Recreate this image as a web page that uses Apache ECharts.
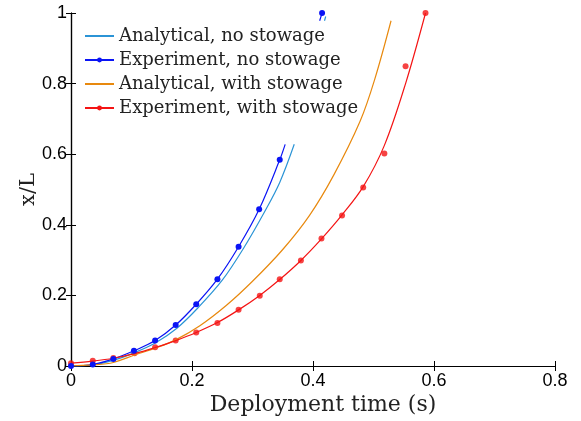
<!DOCTYPE html>
<html>
<head>
<meta charset="utf-8">
<script src="https://cdn.jsdelivr.net/npm/echarts@6/dist/echarts.min.js"></script>
<style>
  html, body { margin: 0; padding: 0; background: #fff; }
  #chart { width: 581px; height: 421px; }
</style>
</head>
<body>
<div id="chart"></div>
<script>
// Axis ticks
const xTicks = [0, 0.2, 0.4, 0.6, 0.8];
const yTicks = [0, 0.2, 0.4, 0.6, 0.8, 1];

// Analytical model, no stowage (deployment time in s, x/L)
const anaNoT = [0, 0.035, 0.07, 0.105, 0.14, 0.175, 0.21, 0.25, 0.285, 0.32, 0.345, 0.369];
const anaNoY = [0, 0.003, 0.016, 0.038, 0.066, 0.107, 0.165, 0.243, 0.333, 0.437, 0.52, 0.628];
// short piece of the same curve near x/L = 1
const anaNoTopT = [0.419, 0.421];
const anaNoTopY = [0.978, 0.99];

// Measured deployment, no stowage
const expNoT = [0, 0.036, 0.070, 0.104, 0.139, 0.173, 0.207, 0.242, 0.277, 0.311, 0.345, 0.415];
const expNoY = [0, 0.004, 0.02, 0.043, 0.072, 0.116, 0.175, 0.246, 0.338, 0.444, 0.584, 1.0];
// fitted line beyond the last frames
const expNoFitEndT = [0.354];
const expNoFitEndY = [0.628];
const expNoFitTopT = [0.411];
const expNoFitTopY = [0.978];

// Analytical model, with stowage
const anaStT = [0, 0.035, 0.07, 0.105, 0.14, 0.173, 0.213, 0.257, 0.3, 0.35, 0.394, 0.434, 0.478, 0.502, 0.529];
const anaStY = [0, 0.003, 0.01, 0.031, 0.051, 0.074, 0.114, 0.172, 0.24, 0.33, 0.426, 0.54, 0.694, 0.812, 0.978];

// Measured deployment, with stowage
const expStT = [0, 0.036, 0.070, 0.105, 0.139, 0.173, 0.207, 0.242, 0.277, 0.312, 0.345, 0.380, 0.414, 0.448, 0.483, 0.518, 0.553, 0.586];
const expStY = [0.008, 0.015, 0.023, 0.036, 0.053, 0.072, 0.095, 0.122, 0.159, 0.199, 0.246, 0.299, 0.361, 0.426, 0.506, 0.602, 0.849, 1.0];
// fitted curve through the measured frames
const fitStT = [0, 0.036, 0.070, 0.105, 0.139, 0.173, 0.207, 0.242, 0.277, 0.312, 0.345, 0.380, 0.414, 0.448, 0.483, 0.518, 0.553, 0.586];
const fitStY = [0.008, 0.014, 0.022, 0.035, 0.052, 0.072, 0.095, 0.123, 0.159, 0.2, 0.245, 0.299, 0.36, 0.428, 0.508, 0.625, 0.8, 1.0];

const pair = (t, y) => t.map((v, i) => [v, y[i]]);
const fmt = v => String(+v.toFixed(1));

const names = [
  'Analytical, no stowage',
  'Experiment, no stowage',
  'Analytical, with stowage',
  'Experiment, with stowage'
];
const colors = ['#2b94d6', '#0a14f5', '#e8890e', '#f41414'];

// blue experiment: measured frames with markers, fitted extension without
const expNoData = pair(expNoT.slice(0, -1), expNoY.slice(0, -1)).map(p => ({ value: p }))
  .concat(pair(expNoFitEndT, expNoFitEndY).map(p => ({ value: p, symbol: 'none' })))
  .concat(['-'])
  .concat(pair(expNoFitTopT, expNoFitTopY).map(p => ({ value: p, symbol: 'none' })))
  .concat([{ value: [expNoT[expNoT.length - 1], expNoY[expNoY.length - 1]] }]);

const anaNoData = pair(anaNoT, anaNoY).concat(['-']).concat(pair(anaNoTopT, anaNoTopY));

const serifFont = 'DejaVu Serif';
const sansFont = 'Liberation Sans';

const chart = echarts.init(document.getElementById('chart'), null, { renderer: 'canvas' });
chart.setOption({
  animation: false,
  backgroundColor: '#fff',
  grid: { left: 71, right: 26, top: 13, bottom: 53, containLabel: false },
  legend: {
    data: [
      { name: names[0], itemStyle: { opacity: 0 } },
      { name: names[1] },
      { name: names[2], itemStyle: { opacity: 0 } },
      { name: names[3] }
    ],
    orient: 'vertical',
    left: 79,
    top: 22,
    itemWidth: 29,
    itemHeight: 6,
    itemGap: 6,
    textStyle: { fontFamily: serifFont, fontSize: 18, color: '#222' },
    selectedMode: false
  },
  xAxis: [{
    type: 'value', min: 0, max: 0.8, interval: 0.2,
    name: 'Deployment time (s)', nameLocation: 'middle', nameGap: 28,
    nameMoveOverlap: false,
    nameTextStyle: { fontFamily: serifFont, fontSize: 22, color: '#222', padding: [0, 0, 0, 20] },
    axisLine: { lineStyle: { color: '#000', width: 1.2 } },
    axisTick: { inside: true, length: 5, lineStyle: { color: '#000' } },
    axisLabel: { fontFamily: sansFont, fontSize: 18, color: '#000', margin: 6, formatter: fmt },
    splitLine: { show: false }
  }, {
    type: 'value', min: 0, max: 0.8, interval: 0.2, position: 'top',
    axisLine: { lineStyle: { color: '#000', width: 1.2 } },
    axisTick: { inside: true, length: 5, lineStyle: { color: '#000' } },
    axisLabel: { show: false }, splitLine: { show: false }
  }],
  yAxis: [{
    type: 'value', min: 0, max: 1, interval: 0.2,
    name: 'x/L', nameLocation: 'middle', nameGap: 32,
    nameMoveOverlap: false,
    nameTextStyle: { fontFamily: serifFont, fontSize: 21, color: '#222' },
    axisLine: { lineStyle: { color: '#000', width: 1.2 } },
    axisTick: { inside: true, length: 5, lineStyle: { color: '#000' } },
    axisLabel: { fontFamily: sansFont, fontSize: 18, color: '#000', margin: 4, formatter: fmt },
    splitLine: { show: false }
  }, {
    type: 'value', min: 0, max: 1, interval: 0.2, position: 'right',
    axisLine: { lineStyle: { color: '#000', width: 1.2 } },
    axisTick: { inside: true, length: 5, lineStyle: { color: '#000' } },
    axisLabel: { show: false }, splitLine: { show: false }
  }],
  series: [
    {
      name: names[0], type: 'line', data: anaNoData, smooth: 0.35,
      symbol: 'none', connectNulls: false,
      lineStyle: { color: colors[0], width: 1.2 }, itemStyle: { color: colors[0] }
    },
    {
      name: names[1], type: 'line', data: expNoData, smooth: 0.35,
      symbol: 'circle', symbolSize: 6, connectNulls: false,
      lineStyle: { color: colors[1], width: 1.2 }, itemStyle: { color: colors[1] }
    },
    {
      name: names[2], type: 'line', data: pair(anaStT, anaStY), smooth: 0.35,
      symbol: 'none',
      lineStyle: { color: colors[2], width: 1.2 }, itemStyle: { color: colors[2] }
    },
    {
      name: names[3], type: 'line', data: pair(fitStT, fitStY), smooth: 0.35,
      symbol: 'circle', symbolSize: 6, showSymbol: false,
      lineStyle: { color: colors[3], width: 1.2 }, itemStyle: { color: colors[3] }
    },
    {
      name: names[3], type: 'scatter', data: pair(expStT, expStY),
      symbol: 'circle', symbolSize: 6, clip: false,
      itemStyle: { color: colors[3] }
    }
  ]
});
</script>
</body>
</html>
